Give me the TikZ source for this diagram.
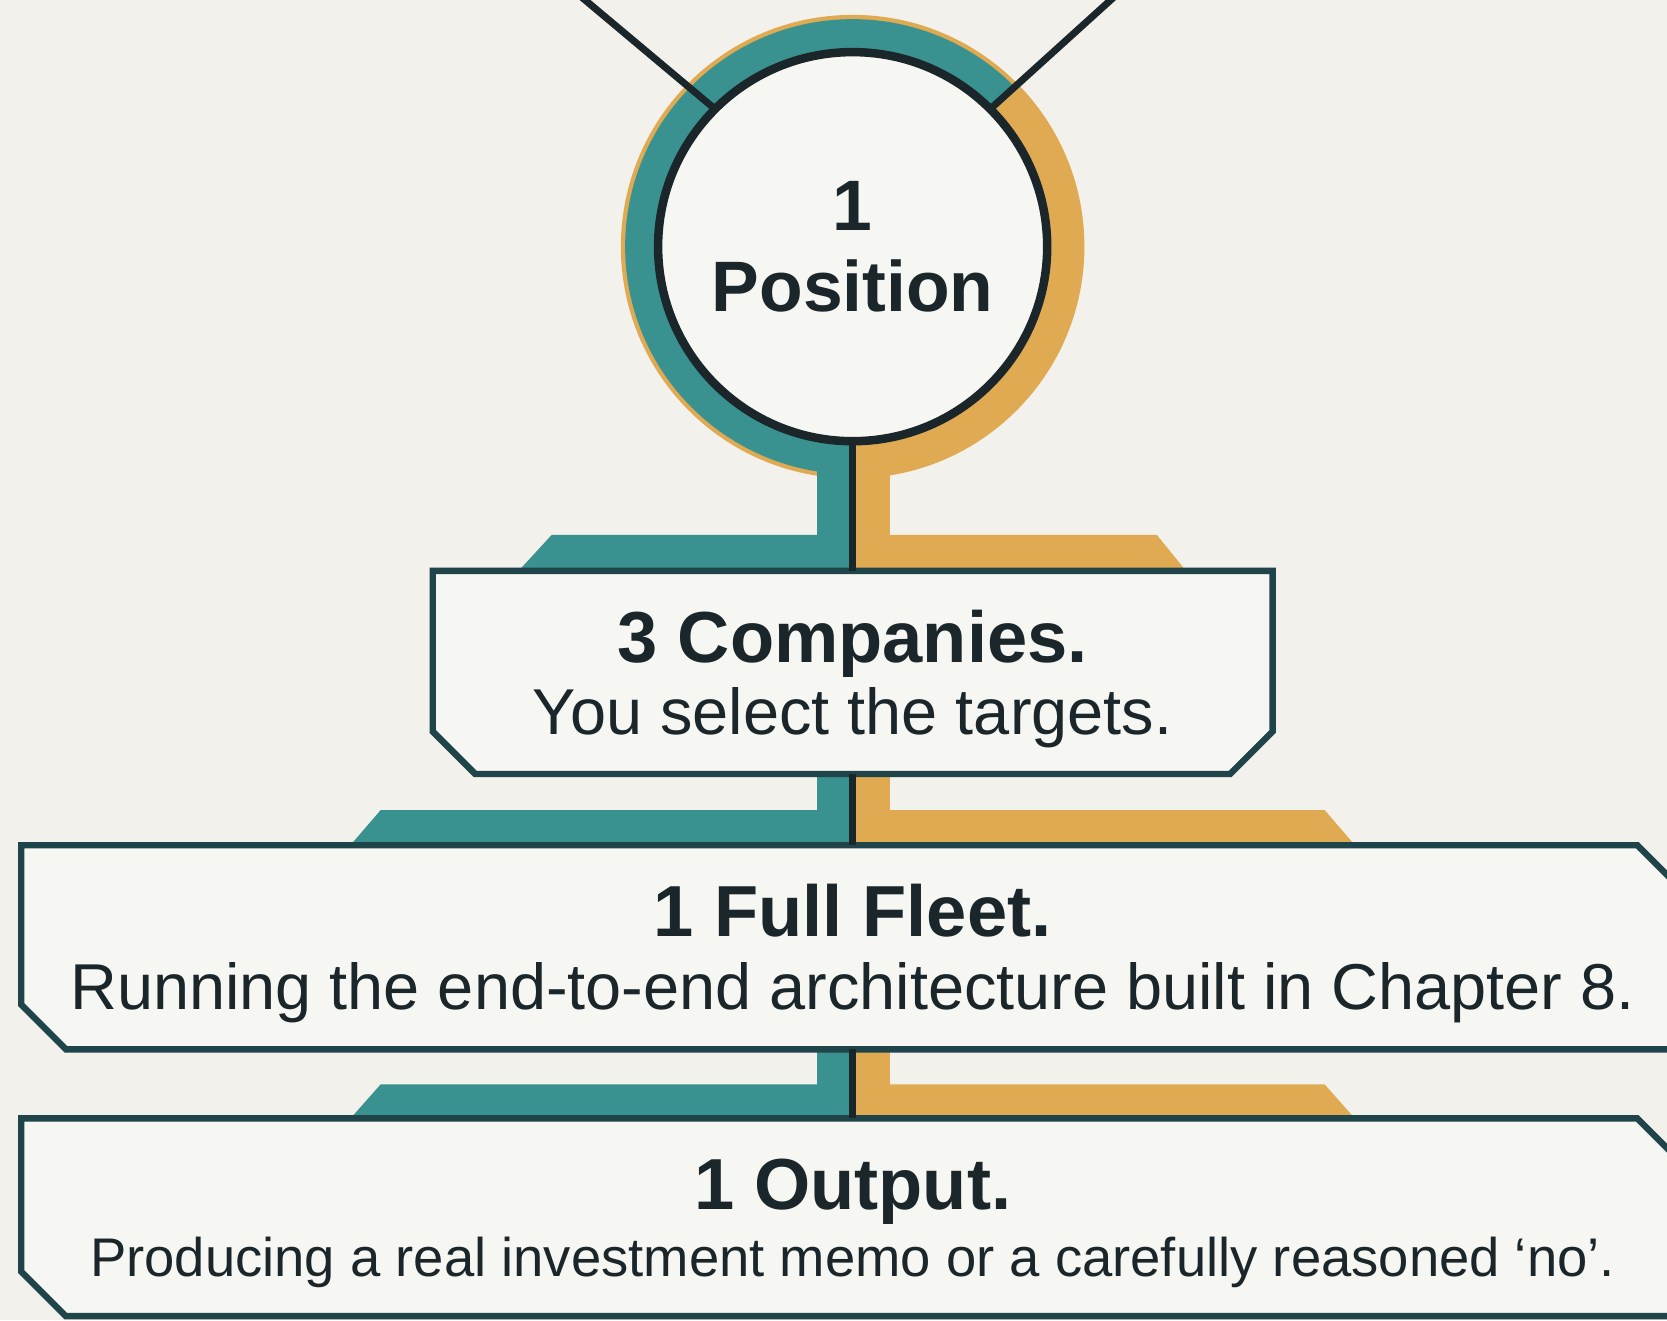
\documentclass[tikz,border=0pt]{standalone}
\usepackage{fontspec}
\setmainfont{Liberation Sans}
\usetikzlibrary{calc}
\definecolor{bgc}{HTML}{F2F1EC}
\definecolor{tealc}{HTML}{3A9290}
\definecolor{orangec}{HTML}{DFAA52}
\definecolor{inkc}{HTML}{1B262B}
\definecolor{framec}{HTML}{1F444A}
\definecolor{paperc}{HTML}{F6F6F2}
\pgfdeclarelayer{bg}
\pgfsetlayers{bg,main}
\begin{document}
\begin{tikzpicture}[x=0.5pt,y=-0.5pt,
  hub/.style={circle, draw=inkc, line width=4pt, fill=paperc, minimum size=183pt,
    inner sep=0pt, outer sep=0pt, align=center, text=inkc, text depth=-4pt,
    font=\bfseries\fontsize{33.6pt}{38pt}\selectfont},
  panel/.style={rectangle, inner sep=0pt, outer sep=0pt, align=center, text=inkc},
  frame/.style={draw=framec, line width=3pt, fill=paperc, line join=miter},
  link/.style={draw=inkc, line width=3pt},
  toplink/.style={draw=inkc, line width=3.3pt}
]
\useasboundingbox (0,0) rectangle (1568,1242);

% nodes
\node[hub] (pos) at (802,232) {1\\Position};
\node[panel, minimum width=395pt, minimum height=95.5pt, text depth=0.4pt,
  font=\fontsize{30.5pt}{34pt}\selectfont] (b1) at (802,632.5)
  {{\bfseries\fontsize{34pt}{34pt}\selectfont 3 Companies.}\\You select the targets.};
\node[panel, minimum width=782pt, minimum height=96pt, text depth=0.4pt,
  font=\fontsize{30.5pt}{34pt}\selectfont] (b2) at (802,891)
  {{\bfseries\fontsize{34pt}{34pt}\selectfont 1 Full Fleet.}\\Running the end-to-end architecture built in Chapter 8.};
\node[panel, minimum width=782pt, minimum height=93pt, text depth=-1.6pt,
  font=\fontsize{25.6pt}{31.5pt}\selectfont] (b3) at (802,1145)
  {{\bfseries\fontsize{34pt}{34pt}\selectfont 1 Output.}\\Producing a real investment memo or a carefully reasoned ‘no’.};

\coordinate (topL) at (536,-12);
\coordinate (topR) at (1058,-12);

% connectors
\draw[toplink] (pos.135) -- (topL);
\draw[toplink] (pos.45) -- (topR);
\draw[link] (pos.south) -- (b1.north);
\draw[link] (b1.south) -- (b2.north);
\draw[link] (b2.south) -- (b3.north);

\begin{pgfonlayer}{bg}
  \fill[bgc] (0,0) rectangle (1568,1242);
  % ring
  \fill[orangec] (pos.center) circle[radius=218];
  \fill[tealc] (pos.center) -- ++(90:214) arc[start angle=90, end angle=315, radius=214] -- cycle;
  % stems
  \fill[tealc] (768,400) rectangle (802,540);
  \fill[orangec] (802,400) rectangle (837,540);
  \fill[tealc] (768,720) rectangle (802,798);
  \fill[orangec] (802,720) rectangle (837,798);
  \fill[tealc] (768,980) rectangle (802,1055);
  \fill[orangec] (802,980) rectangle (837,1055);
  % shoulders
  \fill[tealc] (519,503) -- (802,503) -- (802,540) -- (485,540) -- cycle;
  \fill[orangec] (802,503) -- (1088,503) -- (1118,540) -- (802,540) -- cycle;
  \fill[tealc] (358,762) -- (802,762) -- (802,798) -- (327,798) -- cycle;
  \fill[orangec] (802,762) -- (1246,762) -- (1277,798) -- (802,798) -- cycle;
  \fill[tealc] (358,1020) -- (802,1020) -- (802,1055) -- (327,1055) -- cycle;
  \fill[orangec] (802,1020) -- (1246,1020) -- (1277,1055) -- (802,1055) -- cycle;
  % frames
  \path[frame] (b1.north west) -- (b1.north east) -- ($(b1.south east)+(0,-40)$)
    -- ($(b1.south east)+(-40,0)$) -- ($(b1.south west)+(40,0)$)
    -- ($(b1.south west)+(0,-40)$) -- cycle;
  \path[frame] (b2.north west) -- ($(b2.north east)+(-44,0)$) -- ($(b2.north east)+(0,44)$)
    -- (b2.south east) -- ($(b2.south west)+(42,0)$)
    -- ($(b2.south west)+(0,-42)$) -- cycle;
  \path[frame] (b3.north west) -- ($(b3.north east)+(-44,0)$) -- ($(b3.north east)+(0,44)$)
    -- (b3.south east) -- ($(b3.south west)+(42,0)$)
    -- ($(b3.south west)+(0,-42)$) -- cycle;
\end{pgfonlayer}
\end{tikzpicture}
\end{document}
